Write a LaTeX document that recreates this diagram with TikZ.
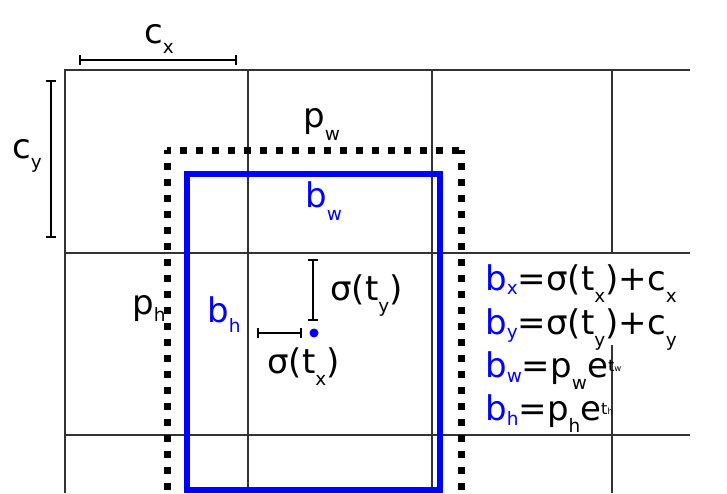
\documentclass[tikz,border=0pt]{standalone}
\usepackage{fontspec}
\setmainfont{DejaVu Sans}
\usetikzlibrary{arrows.meta}
\definecolor{bblue}{RGB}{0,0,255}
\newcommand\lsub[2][12pt]{\raisebox{-#1}{\fontsize{18.5}{18.5}\selectfont #2}}
\newcommand\tinysup[1]{\raisebox{6pt}{\fontsize{16}{16}\selectfont t\fontsize{8.5}{8.5}\selectfont #1}}
\newcommand\mainsz{\fontsize{34}{38}\selectfont}
\begin{document}
\begin{tikzpicture}[x=1pt,y=-1pt,
  gridline/.style={black!80,line width=1.3pt},
  prior/.style={line width=7pt,dash pattern=on 7pt off 9pt,dash phase=3.5pt},
  pred/.style={bblue,line width=5.5pt},
  dimbar/.style={line width=2.2pt,{Bar[width=10pt]}-{Bar[width=10pt]}},
  lbl/.style={font=\mainsz,inner sep=0pt,anchor=base west},
  eq/.style={font=\mainsz,inner sep=0pt,anchor=base west}]
\useasboundingbox (0,0) rectangle (727,493);
\begin{scope}
\clip (0,0) rectangle (727,493);
% grid
\draw[gridline] (65,493) -- (65,70) -- (690,70);
\draw[gridline] (65,253) -- (690,253);
\draw[gridline] (65,435) -- (690,435);
\draw[gridline] (248,70) -- (248,493);
\draw[gridline] (432,70) -- (432,493);
\draw[gridline] (612,70) -- (612,253);
\draw[gridline] (612,345) -- (612,493);
% prior box (dotted)
\draw[prior] (167,150) -- (167,500);
\draw[prior] (167,150) -- (461,150);
\draw[prior] (461,150) -- (461,500);
% predicted box
\draw[pred] (187,174) rectangle (440,490);
\end{scope}
% dimension bars
\coordinate (cx1) at (79,60);
\coordinate (cx2) at (237,60);
\coordinate (cy1) at (51,80);
\coordinate (cy2) at (51,238);
\coordinate (ty1) at (313,259);
\coordinate (ty2) at (313,321);
\coordinate (tx1) at (257,333);
\coordinate (tx2) at (302,333);
\draw[dimbar] (cx1) -- (cx2);
\draw[dimbar] (cy1) -- (cy2);
\draw[dimbar] (ty1) -- (ty2);
\draw[dimbar] (tx1) -- (tx2);
\node[circle,fill=bblue,inner sep=0pt,minimum size=9pt] (ctr) at (314,333) {};
% labels
\node[lbl] (lcx) at (144,43) {c\lsub[10pt]{x}};
\node[lbl] (lcy) at (12,158) {c\lsub[10pt]{y}};
\node[lbl] (lpw) at (303,127) {p\lsub[13pt]{w}};
\node[lbl,bblue] (lbw) at (305,207) {b\lsub[13pt]{w}};
\node[lbl] (lph) at (132,314) {p\lsub[7pt]{h}};
\node[lbl,bblue] (lbh) at (207,322) {b\lsub[10pt]{h}};
\node[lbl] (lty) at (330,300) {σ(t\lsub{y})};
\node[lbl] (ltx) at (267,373) {σ(t\lsub{x})};
% equations
\node[eq] (ebx) at (485,290) {{\color{bblue}b\lsub[4pt]{x}}=σ(t\lsub{x})+c\lsub{x}};
\node[eq] (eby) at (485,334) {{\color{bblue}b\lsub[4pt]{y}}=σ(t\lsub{y})+c\lsub{y}};
\node[eq] (ebw) at (485,377) {{\color{bblue}b\lsub[5pt]{w}}=p\lsub{w}e\tinysup{w}};
\node[eq] (ebh) at (485,420) {{\color{bblue}b\lsub[5pt]{h}}=p\lsub{h}e\tinysup{h}};
\end{tikzpicture}
\end{document}
